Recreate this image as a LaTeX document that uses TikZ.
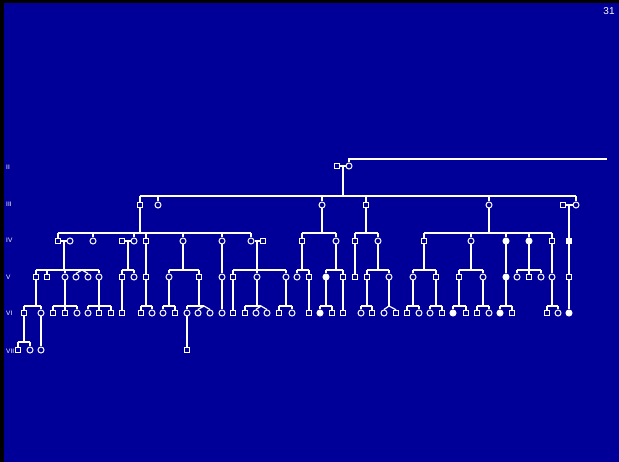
\documentclass[tikz,border=0pt]{standalone}
\usepackage{fontspec}
\setmainfont{Liberation Sans}
\definecolor{slide}{RGB}{0,0,153}
\begin{document}
\begin{tikzpicture}[
  x=1pt,y=-1pt,
  sq/.style={rectangle,draw=white,fill=slide,inner sep=0pt,minimum size=5.5pt,line width=1pt},
  ci/.style={circle,draw=white,fill=slide,inner sep=0pt,minimum size=6pt,line width=1pt},
  aff/.style={fill=white},
  gen/.style={text=white,font=\fontsize{6.5}{6.5}\selectfont,anchor=west,inner sep=0pt},
  ped/.style={draw=white,line width=1.2pt}
]
  \useasboundingbox (0,0) rectangle (619,462);
  \fill[black] (0,0) rectangle (619,462);
  \fill[slide] (4,3) rectangle (619,462);
  \node[text=white,font=\fontsize{10}{10}\selectfont,inner sep=0pt] (page) at (609,11) {31};

  % generation labels
  \node[gen] (lii)  at (6,167) {II};
  \node[gen] (liii) at (6,204) {III};
  \node[gen] (liv)  at (6,240) {IV};
  \node[gen] (lv)   at (6,277) {V};
  \node[gen] (lvi)  at (6,313) {VI};
  \node[gen] (lvii) at (6,351) {VII};

  \coordinate (s3) at (0,196);
  \coordinate (s4) at (0,233);
  \coordinate (s5) at (0,270);
  \coordinate (s6) at (0,306);
  \coordinate (s7) at (0,342);

  % II
  \node[sq] (ii337) at (337,166) {};
  \node[ci] (ii349) at (349,166) {};
  % III
  \node[sq] (iii140) at (140,205) {};
  \node[ci] (iii158) at (158,205) {};
  \node[ci] (iii322) at (322,205) {};
  \node[sq] (iii366) at (366,205) {};
  \node[ci] (iii489) at (489,205) {};
  \node[sq] (iii563) at (563,205) {};
  \node[ci] (iii576) at (576,205) {};
  % IV
  \node[sq] (iv58)  at (58,241) {};
  \node[ci] (iv70)  at (70,241) {};
  \node[ci] (iv93)  at (93,241) {};
  \node[sq] (iv122) at (122,241) {};
  \node[ci] (iv134) at (134,241) {};
  \node[sq] (iv146) at (146,241) {};
  \node[ci] (iv183) at (183,241) {};
  \node[ci] (iv222) at (222,241) {};
  \node[ci] (iv251) at (251,241) {};
  \node[sq] (iv263) at (263,241) {};
  \node[sq] (iv302) at (302,241) {};
  \node[ci] (iv336) at (336,241) {};
  \node[sq] (iv355) at (355,241) {};
  \node[ci] (iv378) at (378,241) {};
  \node[sq] (iv424) at (424,241) {};
  \node[ci] (iv471) at (471,241) {};
  \node[ci,aff] (iv506) at (506,241) {};
  \node[ci,aff] (iv529) at (529,241) {};
  \node[sq] (iv552) at (552,241) {};
  \node[sq,aff] (iv569) at (569,241) {};
  % V
  \node[sq] (v36)  at (36,277) {};
  \node[sq] (v47)  at (47,277) {};
  \node[ci] (v65)  at (65,277) {};
  \node[ci] (v76)  at (76,277) {};
  \node[ci] (v88)  at (88,277) {};
  \node[ci] (v99)  at (99,277) {};
  \node[sq] (v122) at (122,277) {};
  \node[ci] (v134) at (134,277) {};
  \node[sq] (v146) at (146,277) {};
  \node[ci] (v169) at (169,277) {};
  \node[sq] (v199) at (199,277) {};
  \node[ci] (v222) at (222,277) {};
  \node[sq] (v233) at (233,277) {};
  \node[ci] (v257) at (257,277) {};
  \node[ci] (v286) at (286,277) {};
  \node[ci] (v297) at (297,277) {};
  \node[sq] (v309) at (309,277) {};
  \node[ci,aff] (v326) at (326,277) {};
  \node[sq] (v343) at (343,277) {};
  \node[sq] (v355) at (355,277) {};
  \node[sq] (v367) at (367,277) {};
  \node[ci] (v389) at (389,277) {};
  \node[ci] (v413) at (413,277) {};
  \node[sq] (v436) at (436,277) {};
  \node[sq] (v459) at (459,277) {};
  \node[ci] (v483) at (483,277) {};
  \node[ci,aff] (v506) at (506,277) {};
  \node[ci] (v517) at (517,277) {};
  \node[sq] (v529) at (529,277) {};
  \node[ci] (v541) at (541,277) {};
  \node[ci] (v552) at (552,277) {};
  \node[sq] (v569) at (569,277) {};
  % VI
  \node[sq] (vi24)  at (24,313) {};
  \node[ci] (vi41)  at (41,313) {};
  \node[sq] (vi53)  at (53,313) {};
  \node[sq] (vi65)  at (65,313) {};
  \node[ci] (vi77)  at (77,313) {};
  \node[ci] (vi88)  at (88,313) {};
  \node[sq] (vi99)  at (99,313) {};
  \node[sq] (vi111) at (111,313) {};
  \node[sq] (vi122) at (122,313) {};
  \node[sq] (vi141) at (141,313) {};
  \node[ci] (vi152) at (152,313) {};
  \node[ci] (vi163) at (163,313) {};
  \node[sq] (vi175) at (175,313) {};
  \node[ci] (vi187) at (187,313) {};
  \node[ci] (vi198) at (198,313) {};
  \node[ci] (vi210) at (210,313) {};
  \node[ci] (vi222) at (222,313) {};
  \node[sq] (vi233) at (233,313) {};
  \node[sq] (vi245) at (245,313) {};
  \node[ci] (vi256) at (256,313) {};
  \node[ci] (vi267) at (267,313) {};
  \node[sq] (vi279) at (279,313) {};
  \node[ci] (vi292) at (292,313) {};
  \node[sq] (vi309) at (309,313) {};
  \node[ci,aff] (vi320) at (320,313) {};
  \node[sq] (vi332) at (332,313) {};
  \node[sq] (vi343) at (343,313) {};
  \node[ci] (vi361) at (361,313) {};
  \node[sq] (vi372) at (372,313) {};
  \node[ci] (vi384) at (384,313) {};
  \node[sq] (vi396) at (396,313) {};
  \node[sq] (vi407) at (407,313) {};
  \node[ci] (vi419) at (419,313) {};
  \node[ci] (vi430) at (430,313) {};
  \node[sq] (vi442) at (442,313) {};
  \node[ci,aff] (vi453) at (453,313) {};
  \node[sq] (vi466) at (466,313) {};
  \node[sq] (vi477) at (477,313) {};
  \node[ci] (vi489) at (489,313) {};
  \node[ci,aff] (vi500) at (500,313) {};
  \node[sq] (vi512) at (512,313) {};
  \node[sq] (vi547) at (547,313) {};
  \node[ci] (vi558) at (558,313) {};
  \node[ci,aff] (vi569) at (569,313) {};
  % VII
  \node[sq] (vii18)  at (18,350) {};
  \node[ci] (vii30)  at (30,350) {};
  \node[ci] (vii41)  at (41,350) {};
  \node[sq] (vii187) at (187,350) {};

  % marriage points
  \coordinate (m337) at (343,166);
  \coordinate (m563) at (569,205);
  \coordinate (m58)  at (64,241);
  \coordinate (m122) at (128,241);
  \coordinate (m251) at (257,241);

  % II -> III
  \coordinate (tail) at (607,159);
  \draw[ped] (ii349.north) |- (tail);
  \draw[ped] (ii337) -- (ii349);
  \draw[ped] (m337) -- (m337 |- s3);
  \draw[ped] (iii140.north |- s3) -- (iii576.north |- s3);
  \foreach \c in {iii140,iii158,iii322,iii366,iii489,iii576}
    \draw[ped] (\c.north) -- (\c.north |- s3);
  \draw[ped] (iii563) -- (iii576);

  % III -> IV
  \draw[ped] (iii140) -- (iii140 |- s4);
  \draw[ped] (iv58.north |- s4) -- (iv251.north |- s4);
  \foreach \c in {iv58,iv93,iv134,iv146,iv183,iv222,iv251}
    \draw[ped] (\c.north) -- (\c.north |- s4);
  \draw[ped] (iii322) -- (iii322 |- s4);
  \draw[ped] (iv302.north |- s4) -- (iv336.north |- s4);
  \foreach \c in {iv302,iv336} \draw[ped] (\c.north) -- (\c.north |- s4);
  \draw[ped] (iii366) -- (iii366 |- s4);
  \draw[ped] (iv355.north |- s4) -- (iv378.north |- s4);
  \foreach \c in {iv355,iv378} \draw[ped] (\c.north) -- (\c.north |- s4);
  \draw[ped] (iii489) -- (iii489 |- s4);
  \draw[ped] (iv424.north |- s4) -- (iv552.north |- s4);
  \foreach \c in {iv424,iv471,iv506,iv529,iv552} \draw[ped] (\c.north) -- (\c.north |- s4);
  \draw[ped] (m563) -- (iv569);

  % IV -> V
  \draw[ped] (iv58) -- (iv70);
  \draw[ped] (m58) -- (m58 |- s5);
  \draw[ped] (v36.north |- s5) -- (v99.north |- s5);
  \foreach \c in {v36,v47,v65,v99} \draw[ped] (\c.north) -- (\c.north |- s5);
  \coordinate (tw82) at (82,270);
  \draw[ped] (v76.north) -- (tw82) -- (v88.north);
  \draw[ped] (iv122) -- (iv134);
  \draw[ped] (m122) -- (m122 |- s5);
  \draw[ped] (v122.north |- s5) -- (v134.north |- s5);
  \foreach \c in {v122,v134} \draw[ped] (\c.north) -- (\c.north |- s5);
  \draw[ped] (iv146) -- (v146);
  \draw[ped] (iv183) -- (iv183 |- s5);
  \draw[ped] (v169.north |- s5) -- (v199.north |- s5);
  \foreach \c in {v169,v199} \draw[ped] (\c.north) -- (\c.north |- s5);
  \draw[ped] (iv222) -- (v222);
  \draw[ped] (iv251) -- (iv263);
  \draw[ped] (m251) -- (m251 |- s5);
  \draw[ped] (v233.north |- s5) -- (v286.north |- s5);
  \foreach \c in {v233,v257,v286} \draw[ped] (\c.north) -- (\c.north |- s5);
  \draw[ped] (iv302) -- (iv302 |- s5);
  \draw[ped] (v297.north |- s5) -- (v309.north |- s5);
  \foreach \c in {v297,v309} \draw[ped] (\c.north) -- (\c.north |- s5);
  \draw[ped] (iv336) -- (iv336 |- s5);
  \draw[ped] (v326.north |- s5) -- (v343.north |- s5);
  \foreach \c in {v326,v343} \draw[ped] (\c.north) -- (\c.north |- s5);
  \draw[ped] (iv355) -- (v355);
  \draw[ped] (iv378) -- (iv378 |- s5);
  \draw[ped] (v367.north |- s5) -- (v389.north |- s5);
  \foreach \c in {v367,v389} \draw[ped] (\c.north) -- (\c.north |- s5);
  \draw[ped] (iv424) -- (iv424 |- s5);
  \draw[ped] (v413.north |- s5) -- (v436.north |- s5);
  \foreach \c in {v413,v436} \draw[ped] (\c.north) -- (\c.north |- s5);
  \draw[ped] (iv471) -- (iv471 |- s5);
  \draw[ped] (v459.north |- s5) -- (v483.north |- s5);
  \foreach \c in {v459,v483} \draw[ped] (\c.north) -- (\c.north |- s5);
  \draw[ped] (iv506) -- (v506);
  \draw[ped] (iv529) -- (iv529 |- s5);
  \draw[ped] (v517.north |- s5) -- (v541.north |- s5);
  \foreach \c in {v517,v529,v541} \draw[ped] (\c.north) -- (\c.north |- s5);
  \draw[ped] (iv552) -- (v552);
  \draw[ped] (iv569) -- (v569);

  % V -> VI
  \draw[ped] (v36) -- (v36 |- s6);
  \draw[ped] (vi24.north |- s6) -- (vi41.north |- s6);
  \foreach \c in {vi24,vi41} \draw[ped] (\c.north) -- (\c.north |- s6);
  \draw[ped] (v65) -- (v65 |- s6);
  \draw[ped] (vi53.north |- s6) -- (vi77.north |- s6);
  \foreach \c in {vi53,vi65,vi77} \draw[ped] (\c.north) -- (\c.north |- s6);
  \draw[ped] (v99) -- (v99 |- s6);
  \draw[ped] (vi88.north |- s6) -- (vi111.north |- s6);
  \foreach \c in {vi88,vi99,vi111} \draw[ped] (\c.north) -- (\c.north |- s6);
  \draw[ped] (v122) -- (vi122);
  \draw[ped] (v146) -- (v146 |- s6);
  \draw[ped] (vi141.north |- s6) -- (vi152.north |- s6);
  \foreach \c in {vi141,vi152} \draw[ped] (\c.north) -- (\c.north |- s6);
  \draw[ped] (v169) -- (v169 |- s6);
  \draw[ped] (vi163.north |- s6) -- (vi175.north |- s6);
  \foreach \c in {vi163,vi175} \draw[ped] (\c.north) -- (\c.north |- s6);
  \draw[ped] (v199) -- (v199 |- s6);
  \coordinate (tw204) at (204,306);
  \draw[ped] (vi187.north |- s6) -- (tw204);
  \draw[ped] (vi187.north) -- (vi187.north |- s6);
  \draw[ped] (vi198.north) -- (tw204) -- (vi210.north);
  \draw[ped] (v222) -- (vi222);
  \draw[ped] (v233) -- (vi233);
  \draw[ped] (v257) -- (v257 |- s6);
  \coordinate (tw261) at (261,306);
  \draw[ped] (vi245.north |- s6) -- (tw261);
  \draw[ped] (vi245.north) -- (vi245.north |- s6);
  \draw[ped] (vi256.north) -- (tw261) -- (vi267.north);
  \draw[ped] (v286) -- (v286 |- s6);
  \draw[ped] (vi279.north |- s6) -- (vi292.north |- s6);
  \foreach \c in {vi279,vi292} \draw[ped] (\c.north) -- (\c.north |- s6);
  \draw[ped] (v309) -- (vi309);
  \draw[ped] (v326) -- (v326 |- s6);
  \draw[ped] (vi320.north |- s6) -- (vi332.north |- s6);
  \foreach \c in {vi320,vi332} \draw[ped] (\c.north) -- (\c.north |- s6);
  \draw[ped] (v343) -- (vi343);
  \draw[ped] (v367) -- (v367 |- s6);
  \draw[ped] (vi361.north |- s6) -- (vi372.north |- s6);
  \foreach \c in {vi361,vi372} \draw[ped] (\c.north) -- (\c.north |- s6);
  \coordinate (tw389) at (389,306);
  \draw[ped] (v389) -- (tw389);
  \draw[ped] (vi384.north) -- (tw389) -- (vi396.north);
  \draw[ped] (v413) -- (v413 |- s6);
  \draw[ped] (vi407.north |- s6) -- (vi419.north |- s6);
  \foreach \c in {vi407,vi419} \draw[ped] (\c.north) -- (\c.north |- s6);
  \draw[ped] (v436) -- (v436 |- s6);
  \draw[ped] (vi430.north |- s6) -- (vi442.north |- s6);
  \foreach \c in {vi430,vi442} \draw[ped] (\c.north) -- (\c.north |- s6);
  \draw[ped] (v459) -- (v459 |- s6);
  \draw[ped] (vi453.north |- s6) -- (vi466.north |- s6);
  \foreach \c in {vi453,vi466} \draw[ped] (\c.north) -- (\c.north |- s6);
  \draw[ped] (v483) -- (v483 |- s6);
  \draw[ped] (vi477.north |- s6) -- (vi489.north |- s6);
  \foreach \c in {vi477,vi489} \draw[ped] (\c.north) -- (\c.north |- s6);
  \draw[ped] (v506) -- (v506 |- s6);
  \draw[ped] (vi500.north |- s6) -- (vi512.north |- s6);
  \foreach \c in {vi500,vi512} \draw[ped] (\c.north) -- (\c.north |- s6);
  \draw[ped] (v552) -- (v552 |- s6);
  \draw[ped] (vi547.north |- s6) -- (vi558.north |- s6);
  \foreach \c in {vi547,vi558} \draw[ped] (\c.north) -- (\c.north |- s6);
  \draw[ped] (v569) -- (vi569);

  % VI -> VII
  \draw[ped] (vi24) -- (vi24 |- s7);
  \draw[ped] (vii18.north |- s7) -- (vii30.north |- s7);
  \foreach \c in {vii18,vii30} \draw[ped] (\c.north) -- (\c.north |- s7);
  \draw[ped] (vi41) -- (vii41);
  \draw[ped] (vi187) -- (vii187);
\end{tikzpicture}
\end{document}
